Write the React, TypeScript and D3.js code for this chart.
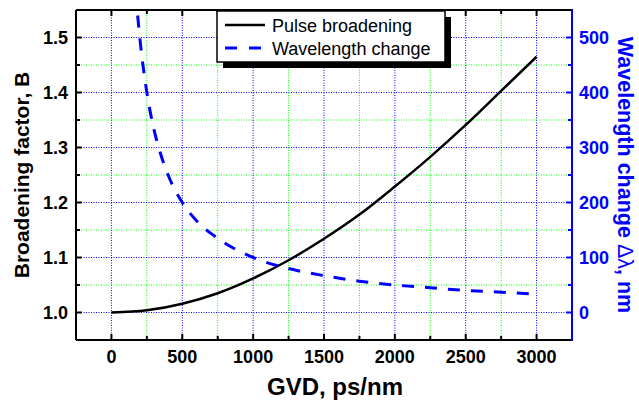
import React from "react";
import * as d3 from "d3";

// GVD (ps/nm) vs broadening factor B
const gvdPulse = [0, 250, 500, 750, 1000, 1250, 1500, 1750, 2000, 2250, 2500, 2750, 3000];
const broadening = [1.0, 1.004, 1.016, 1.035, 1.062, 1.095, 1.134, 1.178, 1.229, 1.283, 1.341, 1.403, 1.465];

// GVD (ps/nm) vs wavelength change (nm)
const gvdWave = [185, 200, 250, 300, 350, 400, 500, 600, 750, 1000, 1250, 1500, 1750, 2000, 2250, 2500, 2750, 3000];
const waveChange = [540, 500, 400, 333, 286, 250, 200, 167, 135, 100, 80, 67, 57, 50, 45, 40, 37, 33];

const xTicks = [0, 500, 1000, 1500, 2000, 2500, 3000];
const yTicks = [1.0, 1.1, 1.2, 1.3, 1.4, 1.5];
const y2Ticks = [0, 100, 200, 300, 400, 500];
const legendItems = ["Pulse broadening", "Wavelength change"];

const font = "'Liberation Sans', Arial, sans-serif";

const App = () => {
    const width = 639;
    const height = 401;
    const left = 76, right = 572, top = 10, bottom = 340;

    const x = d3.scaleLinear().domain([-250, 3250]).range([left, right]);
    const y = d3.scaleLinear().domain([0.95, 1.55]).range([bottom, top]);
    const y2 = d3.scaleLinear().domain([-50, 550]).range([bottom, top]);

    const xMinor = d3.range(-250, 3251, 250);
    const yMinor = d3.range(0, 13).map(i => +(0.95 + i * 0.05).toFixed(2));

    const pulseLine = d3.line<number>()
        .x((d, i) => x(gvdPulse[i]))
        .y(d => y(d))
        .curve(d3.curveMonotoneX);
    const waveLine = d3.line<number>()
        .x((d, i) => x(gvdWave[i]))
        .y(d => y2(d))
        .curve(d3.curveMonotoneX);

    const isMajorX = (v: number) => v % 500 === 0;
    const isMajorY = (v: number) => Math.abs(v * 10 - Math.round(v * 10)) < 1e-6;

    return (
        <svg width={width} height={height} style={{position: "absolute", left: 0, top: 0}} fontFamily={font}>
            <rect x={0} y={0} width={width} height={height} fill="#fff"/>
            {/* grid */}
            <g>
                {xMinor.filter(v => v > -250 && v < 3250).map(v => (
                    <line key={"gx" + v} x1={x(v)} x2={x(v)} y1={top} y2={bottom}
                          stroke={isMajorX(v) ? "#0000ff" : "#00ff00"} strokeWidth={1}
                          strokeDasharray="1,1.5"/>
                ))}
                {yMinor.filter(v => v > 0.95 && v < 1.55).map(v => (
                    <line key={"gy" + v} x1={left} x2={right} y1={y(v)} y2={y(v)}
                          stroke={isMajorY(v) ? "#0000ff" : "#00ff00"} strokeWidth={1}
                          strokeDasharray="1,1.5"/>
                ))}
            </g>

            {/* curves */}
            <path d={pulseLine(broadening) || ""} fill="none" stroke="#000" strokeWidth={2.5}/>
            <path d={waveLine(waveChange) || ""} fill="none" stroke="#0000ff" strokeWidth={3}
                  strokeDasharray="12,11"/>

            {/* frame */}
            <line x1={left} x2={right} y1={top} y2={top} stroke="#000" strokeWidth={2}/>
            <line x1={left} x2={right} y1={bottom} y2={bottom} stroke="#000" strokeWidth={2}/>
            <line x1={left} x2={left} y1={top} y2={bottom} stroke="#000" strokeWidth={2}/>
            <line x1={right} x2={right} y1={top - 1} y2={bottom + 1} stroke="#0000ff" strokeWidth={2}/>

            {/* x ticks */}
            {xMinor.filter(v => v > -250 && v < 3250).map(v => {
                const len = isMajorX(v) ? 6 : 4;
                return (
                    <g key={"tx" + v}>
                        <line x1={x(v)} x2={x(v)} y1={bottom} y2={bottom - len} stroke="#000" strokeWidth={2}/>
                        <line x1={x(v)} x2={x(v)} y1={top} y2={top + len} stroke="#000" strokeWidth={2}/>
                    </g>
                );
            })}
            {xTicks.map(v => (
                <text key={"lx" + v} x={x(v)} y={363} textAnchor="middle" fontSize={18}
                      fontWeight="bold" fill="#000">{v}</text>
            ))}

            {/* left y ticks */}
            {yMinor.filter(v => v > 0.95 && v < 1.55).map(v => (
                <line key={"ty" + v} x1={left} x2={left + (isMajorY(v) ? 6 : 4)} y1={y(v)} y2={y(v)}
                      stroke="#000" strokeWidth={2}/>
            ))}
            {yTicks.map(v => (
                <text key={"ly" + v} x={68} y={y(v)} dy="0.36em" textAnchor="end" fontSize={18}
                      fontWeight="bold" fill="#000">{v.toFixed(1)}</text>
            ))}

            {/* right y ticks */}
            {d3.range(-50, 551, 50).filter(v => v > -50 && v < 550).map(v => (
                <line key={"ty2" + v} x1={right} x2={right - (v % 100 === 0 ? 6 : 4)} y1={y2(v)} y2={y2(v)}
                      stroke="#0000ff" strokeWidth={2}/>
            ))}
            {y2Ticks.map(v => (
                <text key={"ly2" + v} x={579} y={y2(v)} dy="0.36em" textAnchor="start" fontSize={18}
                      fontWeight="bold" fill="#0000ff">{v}</text>
            ))}

            {/* axis titles */}
            <text transform="translate(29,175) rotate(-90)" textAnchor="middle" fontSize={21}
                  fontWeight="bold" fill="#000">Broadening factor, B</text>
            <text transform="translate(618,175) rotate(90)" textAnchor="middle" fontSize={21.5}
                  fontWeight="bold" fill="#0000ff">
                Wavelength change <tspan fontWeight="normal">Δλ</tspan>, nm
            </text>
            <text x={335} y={395} textAnchor="middle" fontSize={24} fontWeight="bold"
                  fill="#000">GVD, ps/nm</text>

            {/* legend */}
            <g>
                <rect x={223} y={17} width={228} height={51} fill="#000"/>
                <rect x={217} y={11} width={228} height={51} fill="#fff" stroke="#000" strokeWidth={1.5}/>
                <line x1={225} x2={265} y1={25} y2={25} stroke="#000" strokeWidth={2.5}/>
                <line x1={225} x2={265} y1={48} y2={48} stroke="#0000ff" strokeWidth={3}
                      strokeDasharray="12,12"/>
                {legendItems.map((name, i) => (
                    <text key={name} x={272} y={31.5 + i * 23.3} fontSize={18} fill="#000">{name}</text>
                ))}
            </g>
        </svg>
    );
};

export default App;
